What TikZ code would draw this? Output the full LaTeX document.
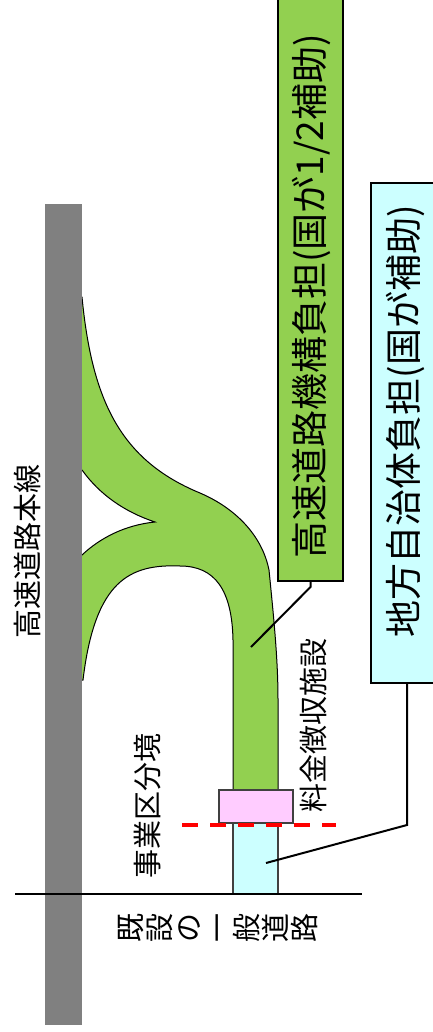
\documentclass[tikz,border=0pt]{standalone}
\usepackage{fontspec}
\usepackage{graphicx}
\setmainfont{Noto Sans CJK JP}
\definecolor{roadgreen}{HTML}{92D050}
\definecolor{bargray}{HTML}{808080}
\definecolor{gatepink}{HTML}{FFCCFF}
\definecolor{localcyan}{HTML}{CCFFFF}
\definecolor{edgegray}{HTML}{404040}
% 縦書きの一文字
\newcommand{\tatechar}[1]{\rotatebox{90}{\makebox[1em]{\rule[-0.12em]{0pt}{1em}#1}}}

\begin{document}
\begin{tikzpicture}[x=1pt, y=-1pt,
    road/.style={fill=roadgreen, draw=black, line width=1},
    bigbox/.style={draw=black, line width=2, rotate=90, inner sep=0},
    biglbl/.style={rotate=90, font=\fontsize{37}{40}\selectfont},
    lbl/.style={font=\fontsize{29}{32}\selectfont},
    pointer/.style={draw=black, line width=2}]
    \useasboundingbox (0,0) rectangle (432,1032);

    % ランプ
    \filldraw[road] (75,297) -- (82,297)
        .. controls (92,400) and (120,460) .. (200,493)
        .. controls (235,508) and (262,535) .. (269,570)
        .. controls (274,620) and (278,660) .. (278,700)
        -- (278,795) -- (233,795) -- (233,640)
        .. controls (232,590) and (215,566) .. (180,566)
        .. controls (130,564) and (95,580) .. (83,680)
        -- (75,680) -- (75,555) -- (82,555)
        .. controls (100,538) and (125,525) .. (155,522)
        .. controls (125,512) and (100,495) .. (82,470)
        -- (75,470) -- cycle;

    % 高速道路本線
    \fill[bargray] (45,204) rectangle (82,1025);

    % 一般道路・料金所
    \filldraw[fill=localcyan, draw=edgegray, line width=1.3] (233,823) rectangle (278,894);
    \node[draw=edgegray, fill=gatepink, line width=1.3, minimum width=74, minimum height=33, inner sep=0] (gate) at (256,806.5) {};

    % 境界
    \draw[line width=2] (15,894) -- (362,894);
    \draw[red, line width=4, dash pattern=on 16 off 12] (182,825) -- (336,825);

    % 負担区分
    \node[bigbox, fill=roadgreen, minimum width=620, minimum height=65] (kikobox) at (310.5,271) {};
    \node[biglbl] (kikotext) at (311,296.5) {高速道路機構負担(国が1/2補助)};
    \node[bigbox, fill=localcyan, minimum width=500, minimum height=72] (jichibox) at (407,433) {};
    \node[biglbl] (jichitext) at (405,421) {地方自治体負担(国が補助)};

    % 引出線
    \coordinate (kikopt) at (251,647);
    \coordinate (kikobend) at (310.5,587);
    \draw[pointer] (kikopt) -- (kikobend) -- (kikobox.west);
    \coordinate (jichipt) at (266,863);
    \coordinate (jichibend) at (407,825);
    \draw[pointer] (jichipt) -- (jichibend) -- (jichibox.west);

    % ラベル
    \node[lbl, rotate=90] (honsen) at (27.5,551) {高速道路本線};
    \node[lbl, rotate=90] (kyokai) at (147.5,806) {事業区分境};
    \node[lbl, rotate=90] (ryokin) at (314,725) {料金徴収施設};
    \node[lbl, inner sep=0] (ippan) at (217.5,928) {\tatechar{既}\tatechar{設}\tatechar{の}\tatechar{一}\tatechar{般}\tatechar{道}\tatechar{路}};
\end{tikzpicture}
\end{document}
